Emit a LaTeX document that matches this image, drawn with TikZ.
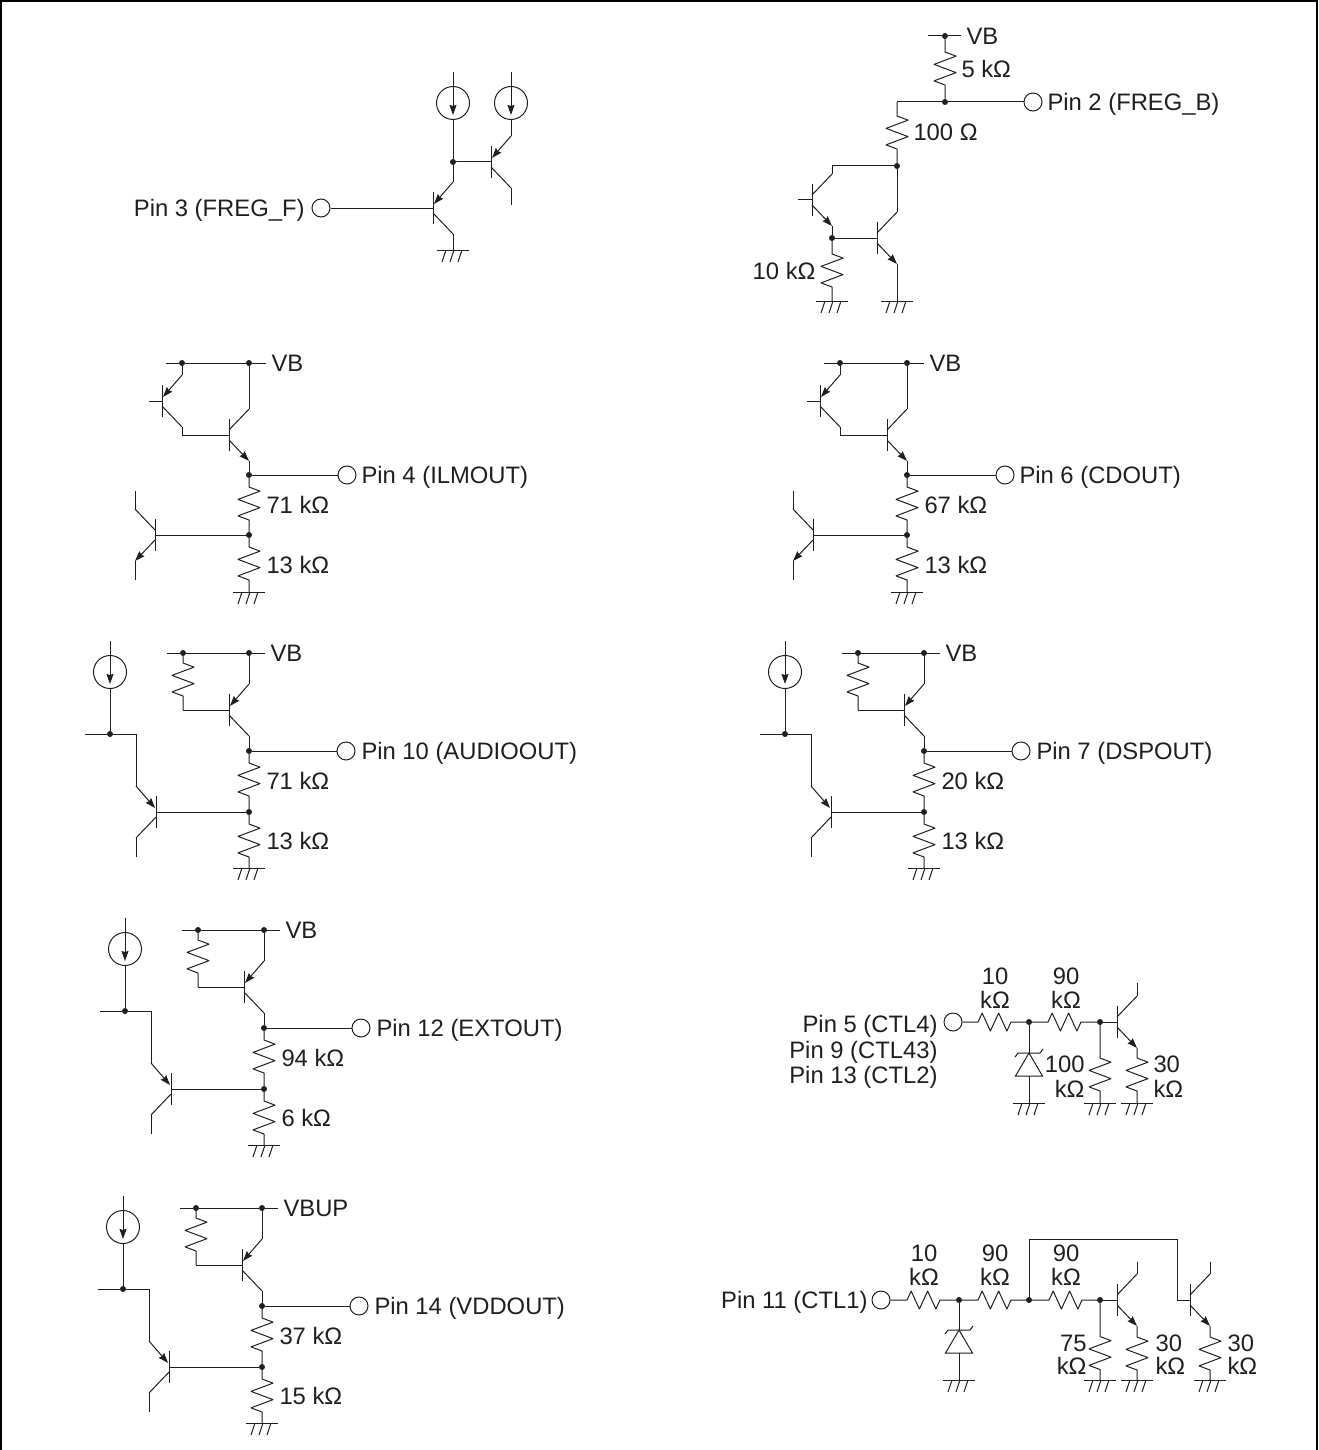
\documentclass[tikz,border=0pt]{standalone}
\usepackage{fontspec}
\setmainfont{Liberation Sans}
\usepackage{tikz}
\usetikzlibrary{arrows.meta,decorations.pathmorphing}
\tikzstyle{jdot}=[fill,circle,minimum size=6pt,inner sep=0pt,outer sep=0pt]
\tikzstyle{pinhole}=[draw,circle,minimum size=18pt,inner sep=0pt]
\tikzstyle{lbl}=[inner sep=0pt,text height=17pt,text depth=0pt,font=\fontsize{23.8}{28}\selectfont]
\tikzstyle{etip}=[-{Stealth[length=10pt,width=7pt,inset=1pt]}]
\tikzset{
  res/.style 2 args={decorate,line join=round,decoration={zigzag,amplitude=11pt,segment length=16.5pt,pre length=#1,post length=#2}},
  resh/.style 2 args={decorate,line join=round,decoration={zigzag,amplitude=9pt,segment length=16.5pt,pre length=#1,post length=#2}},
  npn/.pic={
    \coordinate (-b) at (0,0);
    \coordinate (-c) at (20,-26);
    \coordinate (-e) at (20,26);
    \draw (0,-16) -- (0,16);
    \draw (0,-5) -- (-c);
    \draw[etip] (0,5) -- (-e);
  },
  pnp/.pic={
    \coordinate (-b) at (0,0);
    \coordinate (-e) at (20,-26);
    \coordinate (-c) at (20,26);
    \draw (0,-16) -- (0,16);
    \draw[etip] (-e) -- (1,-4);
    \draw (0,5) -- (-c);
  },
  gnd/.pic={
    \coordinate (-a) at (0,0);
    \draw (-16,0) -- (16,0);
    \foreach \s in {-7,1,9} {\draw (\s,0) -- ++(-4,12);}
  },
  isrc/.pic={
    \coordinate (-b) at (0,16.5);
    \draw (0,0) circle [radius=16.5];
    \draw[etip] (0,-31) -- (0,12);
  },
  zener/.pic={
    \coordinate (-a) at (0,0);
    \coordinate (-b) at (0,23);
    \draw (-14,4) -- (-11,0) -- (11,0) -- (14,-4);
    \draw (0,0) -- (-13.5,23) -- (13.5,23) -- cycle;
  }
}
\newcommand{\stageA}[4]{
  \begin{scope}[shift={(#2,0)},name prefix=#1-]
    \coordinate (vl) at (166,363);
    \coordinate (vr) at (266,363);
    \coordinate (qbs) at (149,401);
    \coordinate (qct) at (135,491);
    \coordinate (qeb) at (135,580);
    \node [jdot] (vq) at (182,363) {};
    \node [jdot] (vcc) at (249,363) {};
    \node [jdot] (out) at (249,475) {};
    \node [jdot] (mid) at (249,535) {};
    \node [pinhole] (pin) at (347,475) {};
    \pic (qa) at (162,401) {pnp};
    \pic (qb) at (229,435) {npn};
    \pic[xscale=-1] (qc) at (155,535) {npn};
    \pic (g) at (249,592) {gnd};
    \node [lbl,anchor=west] (vlbl) at (271,363) {VB};
    \node [lbl,anchor=west] (plbl) at (361,475) {#3};
    \node [lbl,anchor=west] (ra) at (266,505) {#4};
    \node [lbl,anchor=west] (rb) at (266,565) {13 kΩ};
    \draw (vl) -- (vq) -- (vcc) -- (vr);
    \draw (qa-e) -- (vq);
    \draw (qbs) -- (qa-b);
    \draw (qa-c) |- (qb-b);
    \draw (qb-c) -- (vcc);
    \draw (qb-e) -- (out);
    \draw (out) -- (pin);
    \draw[res={9}{10}] (out) -- (mid);
    \draw[res={9}{10}] (mid) -- (g-a);
    \draw (qc-b) -- (mid);
    \draw (qct) -- (qc-c);
    \draw (qc-e) -- (qeb);
  \end{scope}
}
\newcommand{\stageB}[7]{
  \begin{scope}[shift={(#2,#3)},name prefix=#1-]
    \coordinate (vl) at (167,653);
    \coordinate (vr) at (265,653);
    \coordinate (rc) at (183,710);
    \coordinate (il) at (85,734);
    \coordinate (ic) at (136,734);
    \coordinate (qeb) at (136,857);
    \node [jdot] (vq) at (183,653) {};
    \node [jdot] (vcc) at (249,653) {};
    \node [jdot] (out) at (249,751) {};
    \node [jdot] (mid) at (249,812) {};
    \node [jdot] (ij) at (110,734) {};
    \node [pinhole] (pin) at (346,751) {};
    \pic (src) at (110,672) {isrc};
    \pic (qa) at (229,710) {pnp};
    \pic[xscale=-1] (qb) at (156,812) {pnp};
    \pic (g) at (249,868) {gnd};
    \node [lbl,anchor=west] (vlbl) at (270,653) {#4};
    \node [lbl,anchor=west] (plbl) at (361,751) {#5};
    \node [lbl,anchor=west] (ra) at (266,781) {#6};
    \node [lbl,anchor=west] (rb) at (266,841) {#7};
    \draw (vl) -- (vq) -- (vcc) -- (vr);
    \draw[res={7}{12}] (vq) -- (rc);
    \draw (rc) -- (qa-b);
    \draw (qa-e) -- (vcc);
    \draw (qa-c) -- (out);
    \draw (out) -- (pin);
    \draw[res={9}{11}] (out) -- (mid);
    \draw[res={9}{9}] (mid) -- (g-a);
    \draw (qb-b) -- (mid);
    \draw (src-b) -- (ij);
    \draw (il) -- (ij) -- (ic) -- (qb-e);
    \draw (qb-c) -- (qeb);
  \end{scope}
}
\begin{document}
\begin{tikzpicture}[x=1pt,y=-1pt,line width=1pt,color=black!88]
    \useasboundingbox (0,0) rectangle (1318,1450);
    \draw[line width=2pt,black] (1,1450) -- (1,1) -- (1317,1) -- (1317,1450);

    \begin{scope}[name prefix=f-]
      \coordinate (qn) at (511,205);
      \node [jdot] (j) at (453,162) {};
      \node [pinhole] (pin) at (321,208) {};
      \node [lbl,anchor=east] (plbl) at (305,208) {Pin 3 (FREG\_F)};
      \pic (sa) at (453,103) {isrc};
      \pic (sb) at (511,103) {isrc};
      \pic (qa) at (433,208) {pnp};
      \pic (qb) at (491,162) {pnp};
      \pic (g) at (453,250) {gnd};
      \draw (sa-b) -- (j) -- (qa-e);
      \draw (j) -- (qb-b);
      \draw (sb-b) -- (qb-e);
      \draw (qb-c) -- (qn);
      \draw (pin) -- (qa-b);
      \draw (qa-c) -- (g-a);
    \end{scope}

    \begin{scope}[name prefix=b-]
      \coordinate (vl) at (928,36);
      \coordinate (vr) at (961,36);
      \coordinate (cnr) at (897,102);
      \coordinate (stub) at (798,200);
      \node [jdot] (vcc) at (945,36) {};
      \node [jdot] (j) at (945,102) {};
      \node [jdot] (k) at (897,166) {};
      \node [jdot] (m) at (832,238) {};
      \node [pinhole] (pin) at (1033,102) {};
      \pic (qa) at (812,200) {npn};
      \pic (qb) at (877,238) {npn};
      \pic (ga) at (832,301) {gnd};
      \pic (gb) at (897,301) {gnd};
      \node [lbl,anchor=west] (vlbl) at (966,36) {VB};
      \node [lbl,anchor=west] (plbl) at (1047,102) {Pin 2 (FREG\_B)};
      \node [lbl,anchor=west] (ra) at (961,69) {5 kΩ};
      \node [lbl,anchor=west] (rb) at (913,132) {100 Ω};
      \node [lbl,anchor=east] (rc) at (816,271) {10 kΩ};
      \draw (vl) -- (vcc) -- (vr);
      \draw[res={13}{12}] (vcc) -- (j);
      \draw (pin) -- (j) -- (cnr);
      \draw[res={14}{12}] (cnr) -- (k);
      \draw (k) -| (qa-c);
      \draw (k) -- (qb-c);
      \draw (stub) -- (qa-b);
      \draw (qa-e) -- (m);
      \draw (m) -- (qb-b);
      \draw (qb-e) -- (gb-a);
      \draw[res={13}{12}] (m) -- (ga-a);
    \end{scope}

    \stageA{a4}{0}{Pin 4 (ILMOUT)}{71 kΩ}
    \stageA{a6}{658}{Pin 6 (CDOUT)}{67 kΩ}
    \stageB{b10}{0}{0}{VB}{Pin 10 (AUDIOOUT)}{71 kΩ}{13 kΩ}
    \stageB{b7}{675}{0}{VB}{Pin 7 (DSPOUT)}{20 kΩ}{13 kΩ}
    \stageB{b12}{15}{277}{VB}{Pin 12 (EXTOUT)}{94 kΩ}{6 kΩ}
    \stageB{b14}{13}{555}{VBUP}{Pin 14 (VDDOUT)}{37 kΩ}{15 kΩ}

    \begin{scope}[name prefix=c-]
      \coordinate (qct) at (1137,983);
      \node [jdot] (ja) at (1029,1022) {};
      \node [jdot] (jb) at (1100,1022) {};
      \node [pinhole] (pin) at (953,1022) {};
      \pic (q) at (1117,1022) {npn};
      \pic (z) at (1029,1053) {zener};
      \pic (ga) at (1029,1103) {gnd};
      \pic (gb) at (1100,1103) {gnd};
      \pic (gc) at (1137,1103) {gnd};
      \node [lbl,anchor=east] (pa) at (938,1024) {Pin 5 (CTL4)};
      \node [lbl,anchor=east] (pb) at (938,1050) {Pin 9 (CTL43)};
      \node [lbl,anchor=east] (pc) at (938,1075) {Pin 13 (CTL2)};
      \node [lbl] (ra) at (995,976) {10};
      \node [lbl] (rak) at (995,1000) {kΩ};
      \node [lbl] (rb) at (1066,976) {90};
      \node [lbl] (rbk) at (1066,1000) {kΩ};
      \node [lbl,anchor=east] (rc) at (1085,1064) {100};
      \node [lbl,anchor=east] (rck) at (1085,1089) {kΩ};
      \node [lbl,anchor=west] (rd) at (1153,1064) {30};
      \node [lbl,anchor=west] (rdk) at (1153,1089) {kΩ};
      \draw[resh={15.5}{12.5}] (pin) -- (ja);
      \draw[resh={16}{14}] (ja) -- (jb);
      \draw (jb) -- (q-b);
      \draw (qct) -- (q-c);
      \draw (ja) -- (z-a);
      \draw (z-b) -- (ga-a);
      \draw[res={33}{10}] (jb) -- (gb-a);
      \draw[res={10}{10}] (q-e) -- (gc-a);
    \end{scope}

    \begin{scope}[name prefix=d-]
      \coordinate (tl) at (1029,1239);
      \coordinate (tr) at (1177,1239);
      \coordinate (qca) at (1137,1262);
      \coordinate (qcb) at (1210,1262);
      \coordinate (bb) at (1177,1300);
      \node [jdot] (ja) at (959,1300) {};
      \node [jdot] (jb) at (1029,1300) {};
      \node [jdot] (jc) at (1100,1300) {};
      \node [pinhole] (pin) at (881,1300) {};
      \pic (qa) at (1117,1300) {npn};
      \pic (qb) at (1190,1300) {npn};
      \pic (z) at (959,1330) {zener};
      \pic (ga) at (959,1380) {gnd};
      \pic (gb) at (1100,1380) {gnd};
      \pic (gc) at (1137,1380) {gnd};
      \pic (gd) at (1210,1380) {gnd};
      \node [lbl,anchor=east] (plbl) at (868,1300) {Pin 11 (CTL1)};
      \node [lbl] (ra) at (924,1253) {10};
      \node [lbl] (rak) at (924,1277) {kΩ};
      \node [lbl] (rb) at (995,1253) {90};
      \node [lbl] (rbk) at (995,1277) {kΩ};
      \node [lbl] (rc) at (1066,1253) {90};
      \node [lbl] (rck) at (1066,1277) {kΩ};
      \node [lbl,anchor=east] (rd) at (1087,1343) {75};
      \node [lbl,anchor=east] (rdk) at (1087,1366) {kΩ};
      \node [lbl,anchor=west] (re) at (1155,1343) {30};
      \node [lbl,anchor=west] (rek) at (1155,1366) {kΩ};
      \node [lbl,anchor=west] (rf) at (1227,1343) {30};
      \node [lbl,anchor=west] (rfk) at (1227,1366) {kΩ};
      \draw[resh={16.5}{13.5}] (pin) -- (ja);
      \draw[resh={16}{13}] (ja) -- (jb);
      \draw[resh={17}{13}] (jb) -- (jc);
      \draw (jc) -- (qa-b);
      \draw (jb) -- (tl) -- (tr) -- (bb) -- (qb-b);
      \draw (qca) -- (qa-c);
      \draw (qcb) -- (qb-c);
      \draw (ja) -- (z-a);
      \draw (z-b) -- (ga-a);
      \draw[res={33.5}{8.5}] (jc) -- (gb-a);
      \draw[res={11}{8}] (qa-e) -- (gc-a);
      \draw[res={11}{8}] (qb-e) -- (gd-a);
    \end{scope}
\end{tikzpicture}
\end{document}
